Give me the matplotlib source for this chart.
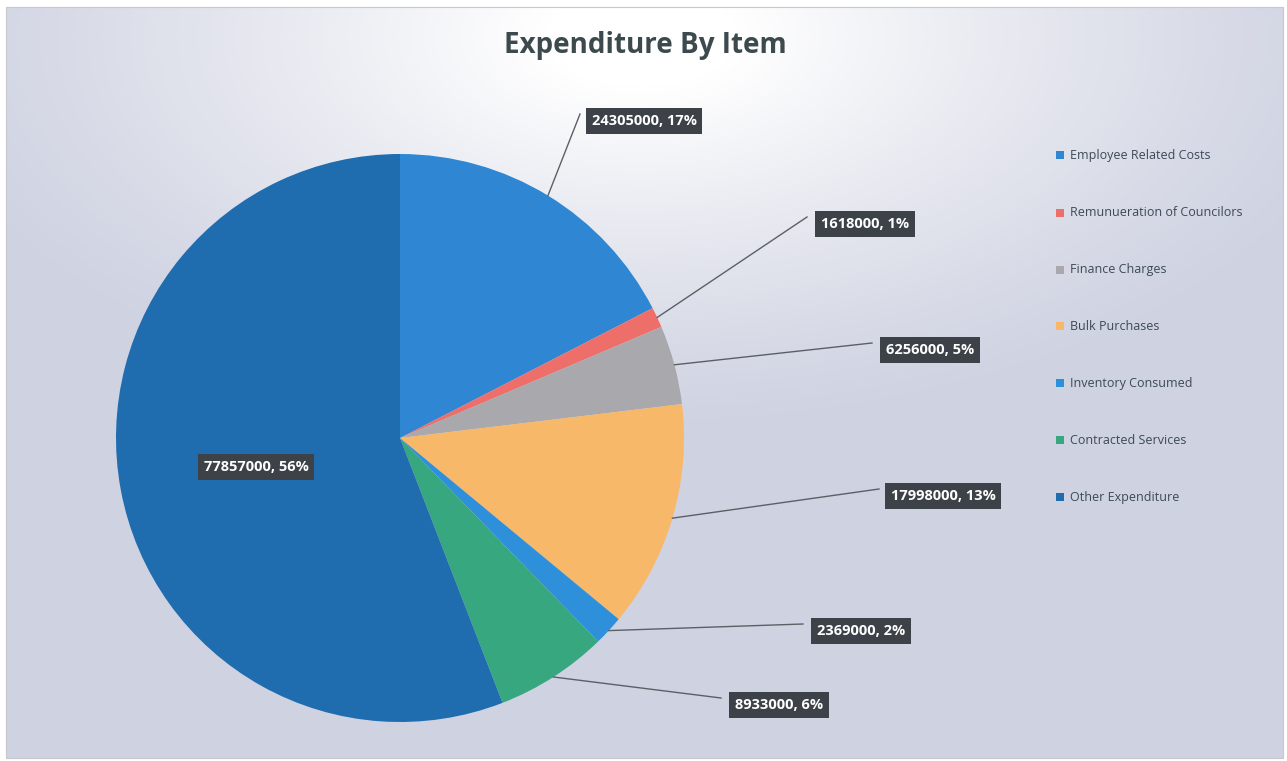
import numpy as np
import matplotlib.pyplot as plt
from matplotlib.patches import Rectangle

# data
categories = ['Employee Related Costs', 'Remunueration of Councilors', 'Finance Charges',
              'Bulk Purchases', 'Inventory Consumed', 'Contracted Services', 'Other Expenditure']
values = [24305000, 1618000, 6256000, 17998000, 2369000, 8933000, 77857000]
percents = [17, 1, 5, 13, 2, 6, 56]
colors = ['#2f86d2', '#ee6f6a', '#a9a9ad', '#f8b86a', '#2e90da', '#37a77f', '#1f6cae']

# label box centres (pixels from top-left), layout only
label_pos = [(644, 121), (865, 224), (930, 350), (943, 496), (861, 631), (779, 705), (256, 467)]

W, H = 1287, 761
fig = plt.figure(figsize=(W / 100, H / 100), dpi=100)
fig.patch.set_facecolor('white')
ax = fig.add_axes([0, 0, 1, 1])

# scanned-page background: lavender grey with a white glow near the title
yy, xx = np.mgrid[0:H, 0:W]
d = np.sqrt(((xx - 640) / 640.0) ** 2 + ((yy - 30) / 340.0) ** 2)
glow = np.clip(1.15 - d, 0, 1) ** 1.2
base = np.array([0.815, 0.827, 0.885])
img = base[None, None, :] * (1 - glow[..., None]) + glow[..., None] * 1.0
img = np.clip(img, 0, 1)
ax.imshow(img, extent=(6, 1283, H - 758, H - 7), origin='upper', zorder=0, aspect='auto')
ax.add_patch(Rectangle((6, H - 758), 1277, 751, fill=False, edgecolor='#c8c8cc', lw=0.8, zorder=1))

plt.rcParams['font.family'] = ['Open Sans', 'DejaVu Sans']

cx, cy, r = 400, H - 438, 284
wedges, _ = ax.pie(values, colors=colors, startangle=90, counterclock=False,
                   center=(cx, cy), radius=r, frame=True,
                   wedgeprops=dict(linewidth=0, zorder=2))
ax.set_xlim(0, W)
ax.set_ylim(0, H)
ax.set_aspect('equal')
ax.axis('off')

box = dict(boxstyle='square,pad=0.4', fc='#3d4248', ec='none')
for w, v, pct, (lx, ly) in zip(wedges, values, percents, label_pos):
    txt = f'{v}, {pct}%'
    ly_d = H - ly
    ax.text(lx, ly_d, txt, ha='center', va='center', fontsize=10.5, fontweight='bold',
            color='white', zorder=5, bbox=box)
    if v == max(values):
        continue
    ang = np.deg2rad((w.theta1 + w.theta2) / 2)
    ex, ey = cx + r * np.cos(ang), cy + r * np.sin(ang)
    bx = lx - 64 if pct >= 10 else lx - 58
    ax.plot([ex, bx], [ey, ly_d + 7], color='#5a6066', lw=1.0, zorder=4)

ax.text(645, H - 45, 'Expenditure By Item', ha='center', va='center', fontsize=20,
        fontweight='bold', color='#3c4a4e', zorder=5)

# legend
leg_y = [155, 213, 270, 326, 383, 440, 497]
for c, name, y in zip(colors, categories, leg_y):
    ax.add_patch(Rectangle((1056, H - y - 4), 8, 8, fc=c, ec='none', zorder=5))
    ax.text(1070, H - y, name, ha='left', va='center', fontsize=9, color='#3c4a55', zorder=5)

fig.savefig('out.png', dpi=100, facecolor='white')
